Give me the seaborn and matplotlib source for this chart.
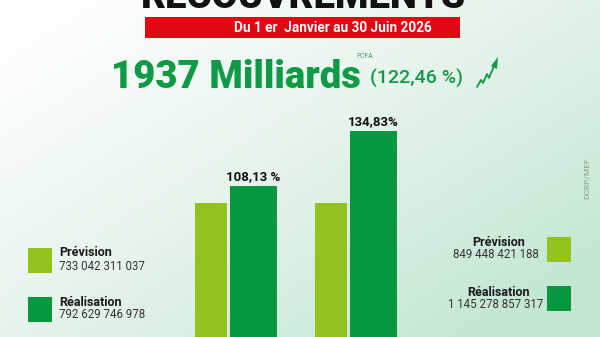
import numpy as np
import pandas as pd
import matplotlib
matplotlib.use("Agg")
import matplotlib.pyplot as plt
from matplotlib.colors import LinearSegmentedColormap
from matplotlib.lines import Line2D
import seaborn as sns

# ---------------- data ----------------
periods = ["Période 1", "Période 2"]
prevision = [733042311037, 849448421188]
realisation = [792629746978, 1145278857317]
taux_labels = ["108,13 %", "134,83%"]
series_names = ["Prévision", "Réalisation"]
title_text = "RECOUVREMENTS"
subtitle_text = "Du 1 er  Janvier au 30 Juin 2026"
total_text = "1937 Milliards"
unit_text = "FCFA"
rate_text = "(122,46 %)"
source_text = "DCRP/MEF"

# ---------------- styles ----------------
LIGHT = "#93c11e"
DARK = "#07983f"
TEXTGREEN = "#0f9a45"
W, H = 600, 337

sns.set_theme(style="white")
plt.rcParams["font.family"] = ["Roboto", "DejaVu Sans"]

fig = plt.figure(figsize=(W / 100, H / 100), dpi=100)

def fx(px):
    return px / W

def fy(py):
    return 1 - py / H

# background gradient
bg = fig.add_axes([0, 0, 1, 1])
xx, yy = np.meshgrid(np.linspace(0, 1, 300), np.linspace(0, 1, 170))
t = np.clip(0.62 * xx + 0.55 * yy - 0.05, 0, 1)
cmap = LinearSegmentedColormap.from_list("bg", ["#ffffff", "#e6f4ec", "#c3e7d2"])
bg.imshow(t, cmap=cmap, aspect="auto", extent=[0, 1, 0, 1], origin="upper", vmin=0, vmax=1)
bg.set_axis_off()

# bars
ax = fig.add_axes([0, 0, 1, 1])
ax.patch.set_alpha(0)
prev_pct = [100.0 * p / p for p in prevision]
real_pct = [100.0 * r / p for r, p in zip(realisation, prevision)]
idx = np.arange(len(periods))
sns.barplot(x=idx - 0.208, y=prev_pct, native_scale=True, width=0.267,
            color=LIGHT, saturation=1, ax=ax, linewidth=0)
sns.barplot(x=idx + 0.146, y=real_pct, native_scale=True, width=0.392,
            color=DARK, saturation=1, ax=ax, linewidth=0)
real_container = ax.containers[-1]
ax.bar_label(real_container, labels=taux_labels, padding=2, fontsize=9.5,
             fontweight="bold", color="#111111")
ax.set_xlim(-236 / 120, (W - 236) / 120)
ax.set_ylim(35.2, 198.2)
ax.set_axis_off()

# title (cut at top)
fig.text(fx(303), fy(8), title_text, ha="center", va="baseline",
         fontsize=27.5, fontweight="black", color="#111111")
# red banner
fig.add_artist(plt.Rectangle((fx(145), fy(38)), fx(460) - fx(145), fy(17) - fy(38),
                             transform=fig.transFigure, color="#e30613", lw=0))
fig.text(fx(333), fy(28), subtitle_text, ha="center", va="center",
         fontsize=9.8, fontweight="bold", color="white")
# headline
fig.text(fx(111), fy(88), total_text, ha="left", va="baseline",
         fontsize=27.5, fontweight="black", color=TEXTGREEN)
fig.text(fx(356), fy(58), unit_text, ha="left", va="baseline",
         fontsize=5, color="#4a9d6a")
fig.text(fx(370), fy(84), rate_text, ha="left", va="baseline",
         fontsize=14, fontweight="medium", color=TEXTGREEN)
# trend arrow icon
zx = [477, 481, 483, 487, 489, 494]
zy = [87, 80, 83, 74, 78, 66]
fig.add_artist(Line2D([fx(v) for v in zx], [fy(v) for v in zy],
                      transform=fig.transFigure, color=TEXTGREEN, lw=1.3))
fig.add_artist(plt.Polygon([[fx(491), fy(66)], [fx(498), fy(57)], [fx(497), fy(69)]],
                           closed=True, transform=fig.transFigure, color=TEXTGREEN, lw=0))

def fmt(v):
    return f"{v:,}".replace(",", " ")

# left legend (group 1)
for i, (name, val, col) in enumerate(zip(series_names, [prevision[0], realisation[0]], [LIGHT, DARK])):
    top = 248 + i * 49
    fig.add_artist(plt.Rectangle((fx(28), fy(top + 25)), fx(24), fy(0) - fy(25),
                                 transform=fig.transFigure, color=col, lw=0))
    fig.text(fx(59), fy(top + 5), name, ha="left", va="center",
             fontsize=9, fontweight="bold", color="#1a1a1a")
    fig.text(fx(59), fy(top + 18), fmt(val), ha="left", va="center",
             fontsize=8.3, color="#333333")

# right legend (group 2)
for i, (name, val, col) in enumerate(zip(series_names, [prevision[1], realisation[1]], [LIGHT, DARK])):
    top = 237 + i * 49
    fig.add_artist(plt.Rectangle((fx(547), fy(top + 25)), fx(24), fy(0) - fy(25),
                                 transform=fig.transFigure, color=col, lw=0))
    fig.text(fx(499), fy(top + 6), name, ha="center", va="center",
             fontsize=9, fontweight="bold", color="#1a1a1a")
    fig.text(fx(496), fy(top + 18), fmt(val), ha="center", va="center",
             fontsize=8.3, color="#333333")

fig.text(fx(587), fy(178), source_text, ha="center", va="center", rotation=90,
         fontsize=6, color="#8a9a90")

fig.savefig("out.png", dpi=100)
